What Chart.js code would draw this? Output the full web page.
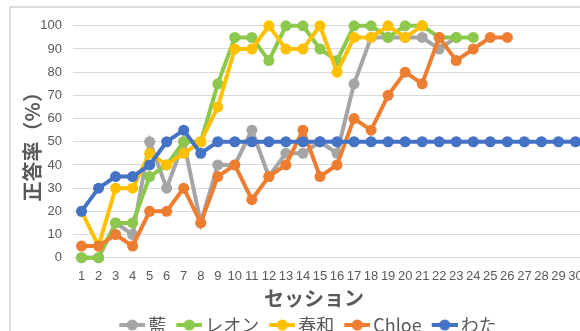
<!DOCTYPE html>
<html>
<head>
<meta charset="utf-8">
<script src="https://cdn.jsdelivr.net/npm/chart.js@4.4.1/dist/chart.umd.min.js"></script>
<style>
  html, body { margin: 0; padding: 0; background: #ffffff; overflow: hidden; width: 580px; height: 331px; }
  #frame { position: absolute; left: 9px; top: 6px; width: 700px; height: 400px;
           border-left: 2px solid #dcdcdc; border-top: 2px solid #dcdcdc; }
  #wrap { position: absolute; left: 10px; top: 7px; width: 608px; height: 337px; }
</style>
</head>
<body>
<div id="frame"></div>
<div id="wrap"><canvas id="c" width="608" height="337"></canvas></div>
<script>
// Session numbers along the x axis
const sessions = ['1','2','3','4','5','6','7','8','9','10','11','12','13','14','15',
                  '16','17','18','19','20','21','22','23','24','25','26','27','28','29','30'];
// Percentage ticks on the y axis
const yTicks = [0, 10, 20, 30, 40, 50, 60, 70, 80, 90, 100];

// Correct-answer rate (%) per session for each learner
const ai     = [0, 0, 15, 10, 50, 30, 50, 15, 40, 40, 55, 35, 45, 45, 50, 45, 75, 95, 95, 95, 95, 90, 95];
const leon   = [0, 0, 15, 15, 35, 40, 50, 50, 75, 95, 95, 85, 100, 100, 90, 85, 100, 100, 95, 100, 100, 95, 95, 95];
const haruwa = [20, 5, 30, 30, 45, 40, 45, 50, 65, 90, 90, 100, 90, 90, 100, 80, 95, 95, 100, 95, 100];
const chloe  = [5, 5, 10, 5, 20, 20, 30, 15, 35, 40, 25, 35, 40, 55, 35, 40, 60, 55, 70, 80, 75, 95, 85, 90, 95, 95];
const wata   = [20, 30, 35, 35, 40, 50, 55, 45, 50, 50, 50, 50, 50, 50, 50, 50, 50, 50, 50, 50, 50, 50,
                50, 50, 50, 50, 50, 50, 50, 50];

const names  = ['藍', 'レオン', '春和', 'Chloe', 'わた'];
const series = [ai, leon, haruwa, chloe, wata];
const colors = ['#a5a5a5', '#8cc84b', '#ffc000', '#ed7d31', '#4472c4'];

const textColor = '#595959';
const cjk = '"Noto Sans CJK JP", "Noto Sans", sans-serif';
const latin = '"Liberation Sans", Arial, sans-serif';

// Legend symbol: short line with a dot, like the plotted series
function makeMarker(color) {
  const cv = document.createElement('canvas');
  cv.width = 40; cv.height = 14;
  const g = cv.getContext('2d');
  g.strokeStyle = color; g.lineWidth = 4;
  g.beginPath(); g.moveTo(14, 7); g.lineTo(40, 7); g.stroke();
  g.fillStyle = color;
  g.beginPath(); g.arc(27, 7, 5.5, 0, Math.PI * 2); g.fill();
  return cv;
}
const markers = colors.map(makeMarker);

// Later series are painted on top of earlier ones
const datasets = series.map((data, i) => ({
  label: names[i],
  data: data,
  borderColor: colors[i],
  backgroundColor: colors[i],
  pointBackgroundColor: colors[i],
  pointBorderColor: colors[i],
  borderWidth: 4,
  pointRadius: 5.5,
  pointBorderWidth: 0,
  tension: 0,
  fill: false,
  clip: false,
  order: series.length - i
}));

// Nudge the legend row slightly left of the chart centre
const legendShift = {
  id: 'legendShift',
  afterLayout(chart) {
    const lg = chart.legend;
    if (lg) { lg.left -= 10; lg.right -= 10; }
  }
};

new Chart(document.getElementById('c'), {
  type: 'line',
  data: { labels: sessions, datasets: datasets },
  plugins: [legendShift],
  options: {
    responsive: false,
    animation: false,
    devicePixelRatio: 1,
    layout: { padding: { top: 14, left: 0, right: 0, bottom: 0 } },
    plugins: {
      tooltip: { enabled: false },
      title: {
        display: true,
        text: 'セッション',
        position: 'bottom',
        weight: 500,
        color: textColor,
        font: { family: cjk, size: 20, weight: 'bold', lineHeight: 1.2 },
        padding: { top: 3, bottom: 3.5 }
      },
      legend: {
        position: 'bottom',
        weight: 1000,
        labels: {
          usePointStyle: true,
          pointStyleWidth: 28,
          padding: 2,
          color: textColor,
          font: { family: cjk, size: 18, lineHeight: 1.2 },
          sort: (a, b) => a.datasetIndex - b.datasetIndex,
          generateLabels(chart) {
            const items = Chart.defaults.plugins.legend.labels.generateLabels(chart);
            items.forEach(it => { it.pointStyle = markers[it.datasetIndex]; });
            return items;
          }
        }
      }
    },
    scales: {
      x: {
        type: 'category',
        offset: true,
        grid: { display: false, drawTicks: false },
        border: { display: true, color: '#d9d9d9', width: 1 },
        ticks: { autoSkip: false, maxRotation: 0, minRotation: 0, padding: 11,
                 color: textColor, font: { family: latin, size: 13 } },
        afterFit(scale) { scale.height = 25.8; }
      },
      y: {
        min: 0, max: 100,
        afterBuildTicks(scale) { scale.ticks = yTicks.map(v => ({ value: v })); },
        afterFit(scale) { scale.width = 63; },
        grid: { color: '#d9d9d9', lineWidth: 1, drawTicks: false },
        border: { display: false },
        ticks: { padding: 11, color: textColor, font: { family: latin, size: 13 } },
        title: {
          display: true,
          text: '正答率（%）',
          color: textColor,
          font: { family: cjk, size: 20, weight: 'bold', lineHeight: 1.2 },
          padding: { top: 10, bottom: 0 }
        }
      },
      yRight: {
        type: 'linear',
        position: 'right',
        display: true,
        grid: { display: false },
        border: { display: false },
        ticks: { display: false },
        afterFit(scale) { scale.width = 34; }
      }
    }
  }
});
</script>
</body>
</html>
